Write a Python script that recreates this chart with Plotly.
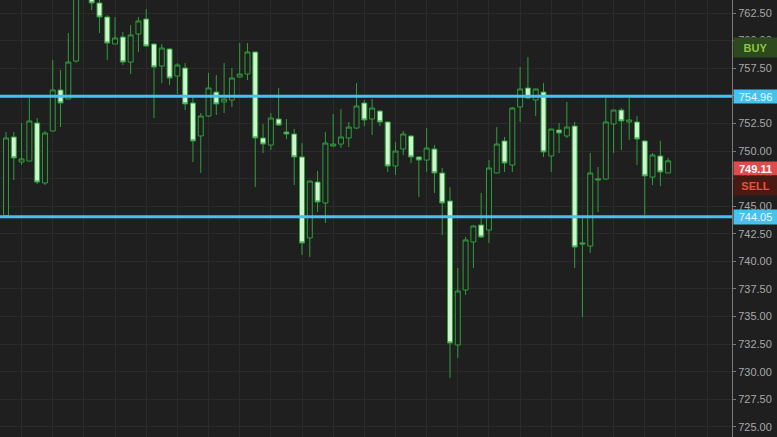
import plotly.graph_objects as go

# ---- data ----
opens = [744.15, 751.27, 749.00, 749.09, 752.54, 747.10, 751.81, 755.53, 754.71, 758.15,
         764.80, 765.60, 763.41, 762.14, 759.69, 760.33, 758.06, 760.60, 761.96, 759.69,
         757.70, 759.24, 756.79, 757.52, 754.35, 751.36, 753.17, 755.34, 754.44, 754.62,
         756.70, 756.97, 758.97, 751.18, 750.54, 752.90, 751.72, 751.54, 749.46, 742.12,
         747.19, 745.29, 750.45, 750.63, 751.18, 752.08, 754.35, 752.90, 753.62, 752.63,
         748.64, 750.18, 751.36, 749.46, 749.18, 750.18, 748.01, 745.47, 732.43, 737.41,
         741.76, 743.30, 742.84, 748.01, 750.91, 748.73, 753.99, 755.71, 754.62, 755.34,
         749.55, 751.90, 751.36, 752.26, 741.67, 741.39, 747.37, 747.46, 752.45, 753.71,
         752.63, 752.63, 750.91, 747.64, 749.55, 748.01]
highs = [751.72, 751.72, 752.54, 754.80, 752.99, 751.81, 758.24, 757.34, 760.69, 765.20,
         767.00, 766.20, 763.90, 762.30, 762.14, 760.78, 761.41, 762.14, 762.86, 759.78,
         759.69, 759.33, 757.97, 757.97, 755.07, 753.44, 757.07, 756.88, 757.97, 757.52,
         759.78, 759.78, 759.00, 752.45, 753.44, 755.71, 752.90, 751.99, 750.72, 747.30,
         748.19, 751.72, 753.35, 753.80, 752.63, 756.16, 754.62, 754.71, 753.71, 752.70,
         750.81, 751.81, 751.45, 749.50, 752.08, 750.54, 748.46, 746.74, 739.40, 742.21,
         743.25, 746.20, 749.18, 752.17, 751.27, 753.99, 757.61, 758.51, 755.65, 756.16,
         752.00, 752.54, 754.44, 752.63, 743.93, 749.82, 748.55, 754.80, 753.75, 753.89,
         754.80, 753.17, 750.95, 749.82, 750.91, 749.37]
lows = [744.10, 747.37, 748.73, 749.09, 747.01, 746.92, 751.81, 752.17, 754.71, 758.00,
        764.30, 762.77, 760.69, 758.24, 759.69, 757.79, 756.97, 758.97, 759.45, 752.99,
        756.16, 755.98, 755.16, 753.71, 749.00, 748.01, 753.10, 753.26, 753.44, 753.99,
        756.65, 756.43, 746.74, 749.82, 750.09, 752.30, 751.09, 746.92, 740.58, 740.40,
        744.47, 743.48, 750.40, 750.27, 750.36, 752.00, 752.26, 751.45, 752.26, 748.10,
        747.83, 749.64, 748.91, 745.83, 748.10, 746.20, 742.39, 729.44, 731.25, 736.96,
        739.40, 742.12, 741.67, 748.00, 748.10, 748.10, 752.63, 754.71, 753.17, 749.46,
        748.10, 749.82, 751.18, 739.40, 734.96, 740.76, 744.47, 747.40, 749.82, 750.09,
        751.00, 748.73, 744.20, 746.92, 746.83, 748.00]
closes = [751.18, 749.37, 749.28, 752.72, 747.19, 751.63, 755.53, 754.35, 758.06, 764.50,
          766.30, 763.41, 762.14, 759.78, 760.24, 758.06, 760.51, 761.78, 759.51, 757.61,
          759.33, 756.61, 757.79, 754.26, 750.91, 753.17, 755.71, 754.26, 754.71, 756.61,
          756.97, 758.97, 751.18, 750.63, 752.99, 752.35, 751.54, 749.46, 741.67, 747.28,
          745.38, 750.72, 750.63, 751.27, 752.17, 754.08, 752.81, 753.89, 752.63, 748.64,
          750.00, 751.54, 749.46, 749.18, 750.27, 748.01, 745.29, 732.61, 737.32, 741.94,
          743.21, 742.21, 748.46, 750.63, 748.91, 753.89, 755.62, 754.80, 755.62, 749.91,
          751.99, 751.63, 752.17, 741.30, 741.58, 748.01, 747.46, 752.63, 753.71, 752.72,
          752.81, 751.09, 747.74, 749.64, 748.10, 749.11]
bars = list(range(len(opens)))

resistance = 754.96
support = 744.05
last_price = closes[-1]
y_ticks = [725.0, 727.5, 730.0, 732.5, 735.0, 737.5, 740.0, 742.5, 745.0, 747.5,
           750.0, 752.5, 755.0, 757.5, 760.0, 762.5]
x_grid = list(range(2, 94, 4))

BG = "#1f1f1f"
GREEN = "#2f9e3c"
MINT = "#cff5cf"
CYAN = "#45c3ee"

fig = go.Figure()
fig.add_trace(go.Candlestick(
    x=bars, open=opens, high=highs, low=lows, close=closes,
    increasing=dict(line=dict(color=GREEN, width=1), fillcolor=BG),
    decreasing=dict(line=dict(color=GREEN, width=1), fillcolor=MINT),
    whiskerwidth=0, showlegend=False, hoverinfo="skip",
))

for lvl in (resistance, support):
    fig.add_shape(type="line", xref="paper", x0=0, x1=1, yref="y", y0=lvl, y1=lvl,
                  line=dict(color=CYAN, width=3))

def tag(text, y, yref, bg, fc, bold=False, yanchor="middle", h=13):
    fig.add_annotation(
        x=1, xref="paper", xanchor="left", xshift=1,
        y=y, yref=yref, yanchor=yanchor,
        text=("<b>%s</b>" % text) if bold else text, showarrow=False,
        bgcolor=bg, width=43, height=h, borderpad=0, align="center",
        font=dict(family="Liberation Sans, Arial, sans-serif", size=11, color=fc),
    )

tag("BUY", 0.891, "paper", "#2c4a1d", "#8cc63f", bold=True, h=19)
tag("%.2f" % resistance, resistance, "y", CYAN, "#e8f8ff")
tag("%.2f" % last_price, last_price, "y", "#dd4b4b", "#ffffff", bold=True, yanchor="top")
tag("SELL", 0.5755, "paper", "#4a1913", "#e5553a", bold=True, h=19)
tag("%.2f" % support, support, "y", CYAN, "#e8f8ff", h=14)

fig.update_layout(
    width=777, height=437,
    margin=dict(l=0, r=45, t=0, b=0),
    paper_bgcolor=BG, plot_bgcolor=BG,
    boxgap=0.2, boxgroupgap=0.2,
    font=dict(family="Liberation Sans, Arial, sans-serif", size=11, color="#a8a8a8"),
    xaxis=dict(range=[-0.77, 93.2], rangeslider=dict(visible=False),
               tickvals=x_grid, showticklabels=False, ticks="",
               showgrid=True, gridcolor="#2b2b2b", gridwidth=1, zeroline=False,
               showline=False, fixedrange=True),
    yaxis=dict(side="right", range=[724.09, 763.68], tickvals=y_ticks,
               tickformat=".2f", showgrid=True, gridcolor="#2b2b2b", gridwidth=1,
               zeroline=False, showline=True, linecolor="#7a7a7a", linewidth=1,
               ticks="outside", ticklen=3, tickcolor="#7a7a7a",
               tickfont=dict(size=11, color="#a8a8a8")),
)

fig.write_html(
    "out.html",
    config={"displayModeBar": False},
    post_script="document.body.style.margin='0';document.body.style.overflow='hidden';"
                "document.body.style.background='#1f1f1f';",
)
